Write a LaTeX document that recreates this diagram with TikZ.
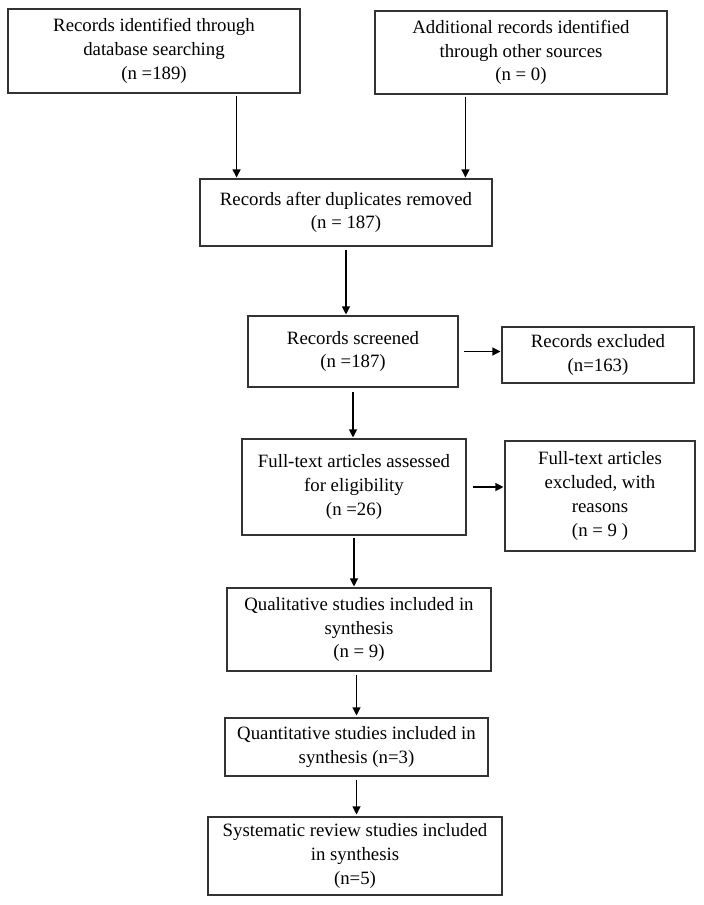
\documentclass[tikz,border=0pt]{standalone}
\usepackage{fontspec}
\setmainfont{Liberation Serif}
\usepackage{xcolor}
\definecolor{boxline}{HTML}{333333}
\usepackage{tikz}
\usetikzlibrary{arrows.meta,positioning,calc}
\tikzset{block/.style={draw=boxline,line width=1.1pt,fill=white,align=center,font=\fontsize{18.8}{23.7}\selectfont,inner sep=2pt},arr/.style={-{Triangle[length=8pt,width=8pt]},draw=black,line width=1.1pt}}
\begin{document}
\begin{tikzpicture}[x=1pt,y=-1pt]
\useasboundingbox[fill=white] (0,0) rectangle (704,905);
\node[block,minimum width=292,minimum height=84] (ident) at (154,51) {Records identified through\\database searching\\(n =189)};
\node[block,minimum width=292,minimum height=83] (other) at (521,52.5) {Additional records identified\\through other sources\\(n = 0)};
\node[block,minimum width=292,minimum height=67] (dupl) at (346,212.5) {Records after duplicates removed\\(n = 187)};
\node[block,minimum width=210,minimum height=71] (screen) at (353,351.5) {Records screened\\(n =187)};
\node[block,minimum width=192,minimum height=56] (excl) at (598,355) {Records excluded\\(n=163)};
\node[block,minimum width=224,minimum height=96] (full) at (354,487) {Full-text articles assessed\\for eligibility\\(n =26)};
\node[block,minimum width=190,minimum height=110] (fullex) at (600,496) {Full-text articles\\excluded, with\\reasons\\(n = 9 )};
\node[block,minimum width=264,minimum height=83] (qual) at (359,629.5) {Qualitative studies included in\\synthesis\\(n = 9)};
\node[block,minimum width=263,minimum height=58] (quant) at (356.5,747) {Quantitative studies included in\\synthesis (n=3)};
\node[block,minimum width=294,minimum height=78] (sysrev) at (355,856) {Systematic review studies included\\in synthesis\\(n=5)};
% arrows
\draw[arr,shorten <=2pt,shorten >=1pt] ([xshift=-64]ident.south east) -- ([xshift=-64]ident.south east |- dupl.north);
\draw[arr,shorten <=2pt,shorten >=1pt] ([xshift=91]other.south west) -- ([xshift=91]other.south west |- dupl.north);
\draw[arr,shorten <=3pt,shorten >=1pt] (dupl.south) -- (dupl.south |- screen.north);
\draw[arr,shorten <=5pt,shorten >=1pt] (screen.east) -- (screen.east -| excl.west);
\draw[arr,shorten <=4pt,shorten >=1pt] (screen.south) -- (screen.south |- full.north);
\draw[arr,shorten <=6pt,shorten >=1pt] (full.east) -- (full.east -| fullex.west);
\draw[arr,shorten <=2pt,shorten >=1pt] (full.south) -- (full.south |- qual.north);
\draw[arr,shorten <=3pt,shorten >=2pt] (quant.north |- qual.south) -- (quant.north);
\draw[arr,shorten <=3pt,shorten >=2pt] (quant.south) -- (quant.south |- sysrev.north);
\end{tikzpicture}
\end{document}
